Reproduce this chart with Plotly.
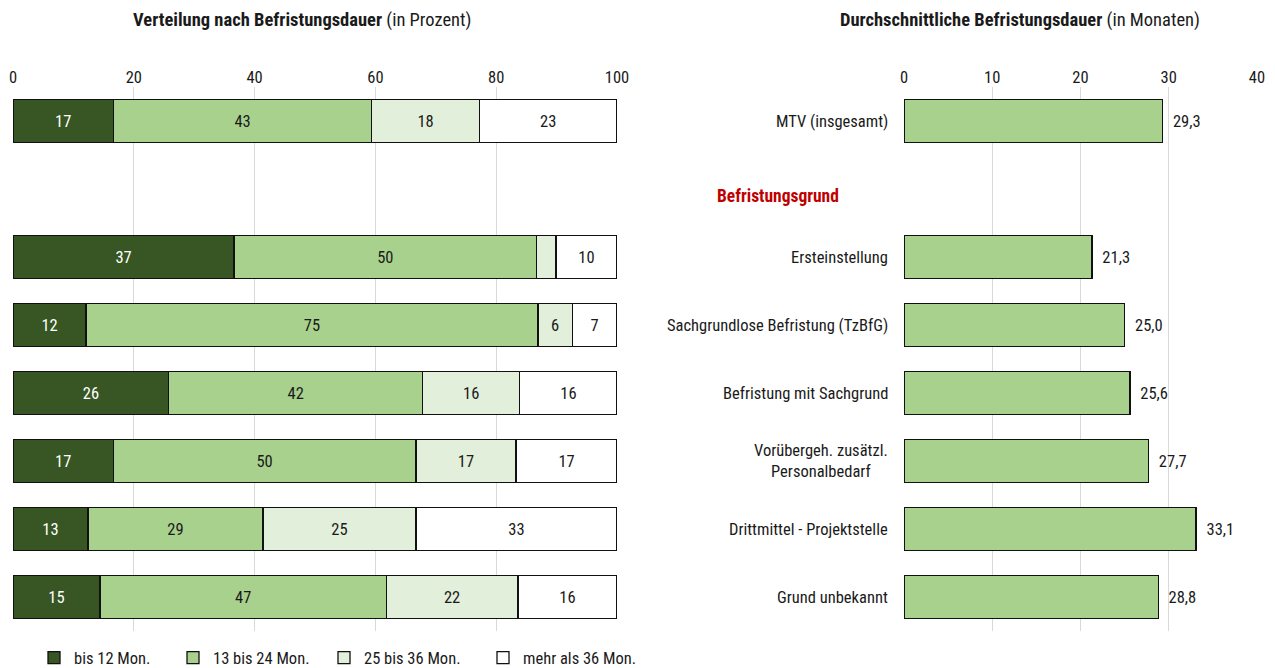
import plotly.graph_objects as go

# ---- data ----
rows = ["MTV (insgesamt)", "Befristungsgrund", "Ersteinstellung",
        "Sachgrundlose Befristung (TzBfG)", "Befristung mit Sachgrund",
        "Vorübergeh. zusätzl.<br>Personalbedarf", "Drittmittel - Projektstelle",
        "Grund unbekannt"]
row_keys = ["r0", "r1", "r2", "r3", "r4", "r5", "r6", "r7"]

series_names = ["bis 12 Mon.", "13 bis 24 Mon.", "25 bis 36 Mon.", "mehr als 36 Mon."]
# segment widths (percent); None for the heading row
bis12 = [16.6, None, 36.6, 12.1, 25.8, 16.6, 12.4, 14.4]
m13_24 = [42.8, None, 50.1, 74.8, 42.0, 50.1, 29.0, 47.4]
m25_36 = [17.8, None, 3.2, 5.7, 16.1, 16.6, 25.3, 21.8]
mehr36 = [22.8, None, 10.1, 7.4, 16.1, 16.7, 33.3, 16.4]
# printed labels
lab_bis12 = ["17", "", "37", "12", "26", "17", "13", "15"]
lab_13_24 = ["43", "", "50", "75", "42", "50", "29", "47"]
lab_25_36 = ["18", "", "", "6", "16", "17", "25", "22"]
lab_mehr36 = ["23", "", "10", "7", "16", "17", "33", "16"]

avg_months = [29.3, None, 21.3, 25.0, 25.6, 27.7, 33.1, 28.8]

left_ticks = [0, 20, 40, 60, 80, 100]
right_ticks = [0, 10, 20, 30, 40]

colors = ["#375623", "#A9D18E", "#E2EFDA", "#FFFFFF"]
text_colors = ["#FFFFFF", "#1a1a1a", "#1a1a1a", "#1a1a1a"]

FONT = "Liberation Sans Narrow, Roboto Condensed, Roboto, Arial Narrow, sans-serif"
FS = 16.5

W, H = 1275, 668
ml, mr, mt, mb = 13, 18, 87, 37
pw = W - ml - mr
ph = H - mt - mb


def px_x(p):
    return (p - ml) / pw


def px_y(p):
    return 1 - (p - mt) / ph


fig = go.Figure()

legend_ids = ["legend", "legend2", "legend3", "legend4"]
legend_px = [34, 173, 324, 483]

for name, vals, labs, col, tcol, lid in zip(series_names,
                                            [bis12, m13_24, m25_36, mehr36],
                                            [lab_bis12, lab_13_24, lab_25_36, lab_mehr36],
                                            colors, text_colors, legend_ids):
    fig.add_trace(go.Bar(
        x=vals, y=row_keys, orientation="h", name=name, legend=lid,
        marker=dict(color=col, line=dict(color="#111111", width=1.3)),
        text=labs, textposition="inside", insidetextanchor="middle",
        textangle=0, constraintext="none",
        textfont=dict(color=tcol, size=FS, family=FONT),
        width=0.63, xaxis="x", yaxis="y", hoverinfo="skip",
    ))

fig.add_trace(go.Bar(
    x=avg_months, y=row_keys, orientation="h", showlegend=False,
    marker=dict(color="#A9D18E", line=dict(color="#111111", width=1.3)),
    texttemplate="\u2002%{x:.1f}", textposition="outside",
    textfont=dict(color="#1a1a1a", size=FS, family=FONT),
    cliponaxis=False,
    width=0.63, xaxis="x2", yaxis="y2", hoverinfo="skip",
))

legend_layout = {}
for lid, lx in zip(legend_ids, legend_px):
    legend_layout[lid] = dict(
        orientation="h", x=px_x(lx), y=px_y(658), xanchor="left",
        yanchor="middle", font=dict(size=FS, color="#1a1a1a"),
        bgcolor="rgba(0,0,0,0)", itemclick=False)

fig.update_layout(
    width=W, height=H,
    margin=dict(l=ml, r=mr, t=mt, b=mb, autoexpand=False),
    paper_bgcolor="white", plot_bgcolor="white",
    barmode="stack",
    separators=",.",
    font=dict(family=FONT, size=FS, color="#1a1a1a"),
    xaxis=dict(domain=[0, px_x(617)], range=[0, 100], side="top",
               tickvals=left_ticks, showgrid=True, gridcolor="#D9D9D9",
               gridwidth=1, zeroline=False, showline=False, ticks="",
               automargin=False,
               tickfont=dict(size=FS, color="#1a1a1a"), fixedrange=True),
    yaxis=dict(domain=[0, 1], categoryorder="array", categoryarray=row_keys,
               autorange="reversed", showticklabels=False, showgrid=False,
               zeroline=False, showline=False, ticks="", automargin=False),
    xaxis2=dict(domain=[px_x(904), 1], range=[0, 40], side="top",
                tickvals=right_ticks, showgrid=True, gridcolor="#D9D9D9",
                gridwidth=1, zeroline=False, showline=False, ticks="",
                automargin=False,
                tickfont=dict(size=FS, color="#1a1a1a"), anchor="y2"),
    yaxis2=dict(domain=[0, 1], categoryorder="array", categoryarray=row_keys,
                autorange="reversed", showticklabels=False, showgrid=False,
                zeroline=False, showline=False, ticks="", anchor="x2",
                automargin=False),
    showlegend=True,
    **legend_layout,
)

annotations = [
    dict(text="<b>Verteilung nach Befristungsdauer</b> (in Prozent)",
         xref="paper", yref="paper", x=px_x(302), y=px_y(20),
         xanchor="center", yanchor="middle", showarrow=False,
         font=dict(size=18.5, color="#1a1a1a")),
    dict(text="<b>Durchschnittliche Befristungsdauer</b> (in Monaten)",
         xref="paper", yref="paper", x=px_x(1020), y=px_y(20),
         xanchor="center", yanchor="middle", showarrow=False,
         font=dict(size=18.5, color="#1a1a1a")),
]
for key, label in zip(row_keys, rows):
    if key == "r1":
        annotations.append(dict(
            text="<b>" + label + "</b>", xref="paper", yref="y2",
            x=px_x(778), y=key, yshift=-7, xanchor="center",
            yanchor="middle", showarrow=False,
            font=dict(size=17.5, color="#C00000")))
    else:
        annotations.append(dict(
            text=label, xref="paper", yref="y2", x=px_x(890), y=key,
            xanchor="right", yanchor="middle", align="center",
            showarrow=False, font=dict(size=FS, color="#1a1a1a")))
fig.update_layout(annotations=annotations)

fig.write_html("out.html",
               config={"displayModeBar": False},
               post_script="document.body.style.margin='0';"
                           "document.body.style.overflow='hidden';")
